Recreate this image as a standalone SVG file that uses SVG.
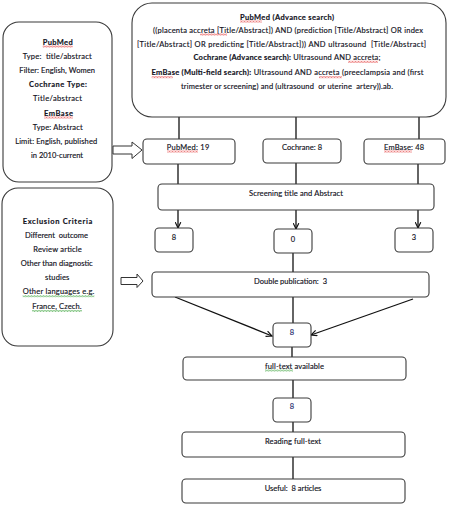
<svg xmlns="http://www.w3.org/2000/svg" width="451" height="516" viewBox="0 0 451 516">
<style>
.box{fill:#fff;stroke:#3a3a3a;stroke-width:1.1}
.t{font-family:Lato,"Noto Sans","Liberation Sans",sans-serif;font-size:7.5px;fill:#12121c;stroke:#12121c;stroke-width:0.15;text-anchor:middle;white-space:pre}
.b{font-weight:bold}
.ln{stroke:#111;stroke-width:1.3;fill:none}
.blk{fill:#fff;stroke:#333;stroke-width:1}
</style>
<defs>
<marker id="ar" viewBox="0 0 8 8" refX="7.2" refY="4" markerWidth="7" markerHeight="7" markerUnits="userSpaceOnUse" orient="auto">
<path d="M0.5,0.8 L7.2,4 L0.5,7.2" fill="none" stroke="#111" stroke-width="1.3"/>
</marker>
<pattern id="wr" width="3" height="2" patternUnits="userSpaceOnUse">
<path d="M0,1.6 L0.75,0.4 L1.5,1.6 L2.25,0.4 L3,1.6" fill="none" stroke="#e02020" stroke-width="0.6"/>
</pattern>
<pattern id="wg" width="3" height="2" patternUnits="userSpaceOnUse">
<path d="M0,1.6 L0.75,0.4 L1.5,1.6 L2.25,0.4 L3,1.6" fill="none" stroke="#2a9a2a" stroke-width="0.6"/>
</pattern>
</defs>

<g id="connectors">
<line class="ln" x1="179" y1="117" x2="179" y2="139"/>
<line class="ln" x1="296" y1="117" x2="296" y2="139"/>
<line class="ln" x1="419" y1="117" x2="419" y2="139"/>
<line class="ln" x1="178" y1="164" x2="178" y2="184"/>
<line class="ln" x1="296" y1="163" x2="296" y2="184"/>
<line class="ln" x1="418" y1="164" x2="418" y2="184"/>
<line class="ln" x1="178" y1="210" x2="178" y2="228" marker-end="url(#ar)"/>
<line class="ln" x1="296" y1="210" x2="296" y2="229" marker-end="url(#ar)"/>
<line class="ln" x1="418" y1="210" x2="418" y2="228" marker-end="url(#ar)"/>
<line class="ln" x1="293" y1="253" x2="293" y2="272"/>
<line class="ln" x1="293" y1="297" x2="293" y2="323"/>
<line class="ln" x1="175" y1="297" x2="272" y2="336" marker-end="url(#ar)"/>
<line class="ln" x1="413" y1="299" x2="311" y2="335" marker-end="url(#ar)"/>
<line class="ln" x1="292" y1="347" x2="292" y2="357"/>
<line class="ln" x1="293" y1="380" x2="293" y2="398"/>
<line class="ln" x1="293" y1="422" x2="293" y2="432"/>
<line class="ln" x1="293" y1="457" x2="293" y2="479"/>
<path id="arrow1" class="blk" d="M113,146 L132,146 L132,142 L142,150 L132,158.5 L132,154 L113,154 Z"/>
<path id="arrow2" class="blk" d="M121,277.5 L137,277.5 L137,274 L143,281 L137,287.5 L137,284.5 L121,284.5 Z"/>
</g>

<g id="search-strategy">
<rect class="box" x="132" y="3" width="314" height="114" rx="20"/>
<text class="t" x="287" y="19.5" textLength="94"><tspan class="b">PubMed (Advance search)</tspan></text>
<text class="t" x="288" y="32.5" textLength="270">((placenta accreta [Title/Abstract]) AND (prediction [Title/Abstract] OR index</text>
<text class="t" x="281.5" y="46.5" textLength="289">[Title/Abstract] OR predicting [Title/Abstract])) AND ultrasound  [Title/Abstract]</text>
<text class="t" x="287" y="59.8" textLength="187"><tspan class="b">Cochrane (Advance search):</tspan> Ultrasound AND accreta;</text>
<text class="t" x="287.5" y="75.2" textLength="272"><tspan class="b">EmBase (Multi-field search):</tspan> Ultrasound AND accreta (preeclampsia and (first</text>
<text class="t" x="287" y="89.2" textLength="212">trimester or screening) and (ultrasound  or uterine  artery)).ab.</text>
<rect x="240" y="20.5" width="22" height="2" fill="url(#wr)"/>
<rect x="200" y="33.5" width="27" height="2" fill="url(#wr)"/>
<rect x="348" y="60.8" width="30" height="2" fill="url(#wr)"/>
<rect x="151.7" y="76.2" width="21" height="2" fill="url(#wr)"/>
<rect x="319" y="76.2" width="23" height="2" fill="url(#wr)"/>
</g>

<g id="databases">
<rect class="box" x="3" y="22" width="109" height="160" rx="16"/>
<text class="t b" x="57.7" y="44.5" textLength="30">PubMed</text>
<text class="t" x="57.2" y="59" textLength="69">Type:  title/abstract</text>
<text class="t" x="57.2" y="72.5" textLength="75.7">Filter: English, Women</text>
<text class="t b" x="58" y="87" textLength="58">Cochrane Type:</text>
<text class="t" x="57.5" y="101" textLength="49">Title/abstract</text>
<text class="t b" x="58.5" y="115.5" textLength="29">EmBase</text>
<text class="t" x="57.7" y="129.5" textLength="50">Type: Abstract</text>
<text class="t" x="56.2" y="143.5" textLength="82">Limit: English, published</text>
<text class="t" x="57" y="157.5">in 2010-current</text>
<rect x="42.7" y="45.5" width="30" height="2" fill="url(#wr)"/>
<rect x="44" y="116.5" width="29" height="2" fill="url(#wr)"/>
</g>

<g id="exclusion">
<rect class="box" x="2" y="188" width="111" height="158" rx="16"/>
<text class="t b" x="57.5" y="224.2" textLength="69.6">Exclusion Criteria</text>
<text class="t" x="56.5" y="238.2" textLength="63">Different  outcome</text>
<text class="t" x="57.5" y="251.5" textLength="48.4">Review article</text>
<text class="t" x="56.7" y="265.5" textLength="72">Other than diagnostic</text>
<text class="t" x="57.2" y="280.2" textLength="24.3">studies</text>
<text class="t" x="58.5" y="294.2" textLength="71.6">Other languages e.g.</text>
<text class="t" x="57" y="309.2" textLength="49.3">France, Czech.</text>
<rect x="22.7" y="295.2" width="71.6" height="2" fill="url(#wg)"/>
<rect x="32" y="310" width="50" height="2" fill="url(#wg)"/>
</g>

<g id="pubmed">
<rect class="box" x="143" y="139" width="92" height="25" rx="4"/>
<text class="t" x="188" y="149.8" textLength="42.6">PubMed: 19</text>
<rect x="167" y="150.5" width="31" height="2" fill="url(#wr)"/>
</g>
<g id="cochrane">
<rect class="box" x="263" y="139" width="78" height="24" rx="4"/>
<text class="t" x="302" y="149.8" textLength="40">Cochrane: 8</text>
</g>
<g id="embase">
<rect class="box" x="364" y="139" width="81" height="25" rx="4"/>
<text class="t" x="404" y="149.8" textLength="40">EmBase: 48</text>
<rect x="384" y="150.5" width="28" height="2" fill="url(#wr)"/>
</g>

<g id="screening">
<rect class="box" x="158" y="184" width="276" height="26" rx="4"/>
<text class="t" x="296" y="195.5" textLength="94">Screening title and Abstract</text>
</g>

<g id="res-pubmed">
<rect class="box" x="155" y="228" width="38" height="24" rx="4"/>
<text class="t" x="174" y="239.5">8</text>
</g>
<g id="res-cochrane">
<rect class="box" x="274" y="229" width="38" height="24" rx="4"/>
<text class="t" x="293" y="241.5">0</text>
</g>
<g id="res-embase">
<rect class="box" x="395" y="228" width="38" height="24" rx="4"/>
<text class="t" x="414" y="239.5">3</text>
</g>

<g id="double">
<rect class="box" x="152" y="272" width="277" height="25" rx="4"/>
<text class="t" x="290.5" y="283.5" textLength="73">Double publication:  3</text>
</g>

<g id="merged">
<rect class="box" x="273" y="323" width="38" height="24" rx="4"/>
<text class="t" x="292" y="334.5" style="fill:#1f2a6b;stroke:#1f2a6b">8</text>
</g>

<g id="fulltext">
<rect class="box" x="183" y="357" width="223" height="23" rx="4"/>
<text class="t" x="294.5" y="368.5" textLength="59">full-text available</text>
<rect x="265" y="369.5" width="28" height="2" fill="url(#wg)"/>
</g>

<g id="fulltext-count">
<rect class="box" x="273" y="398" width="38" height="24" rx="4"/>
<text class="t" x="292" y="408.5" style="fill:#1f2a6b;stroke:#1f2a6b">8</text>
</g>

<g id="reading">
<rect class="box" x="182" y="432" width="223" height="25" rx="4"/>
<text class="t" x="293" y="443.5" textLength="56">Reading full-text</text>
</g>

<g id="useful">
<rect class="box" x="182" y="479" width="223" height="24" rx="4"/>
<text class="t" x="293" y="490.5" textLength="56.7">Useful:  8 articles</text>
</g>
</svg>
